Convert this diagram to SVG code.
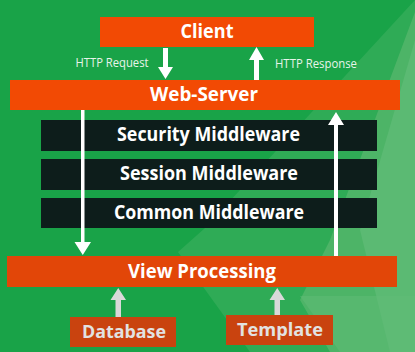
<svg xmlns="http://www.w3.org/2000/svg" width="415" height="352" viewBox="0 0 415 352">
  <style>
    .box-o { fill: #f24a04; }
    .box-v { fill: #e24608; }
    .box-s { fill: #c9430f; }
    .box-d { fill: #0d1d1b; }
    .t { font-family: "Open Sans", "Liberation Sans", sans-serif; font-weight: 700; fill: #ffffff; text-anchor: middle; }
    .ts { font-family: "Open Sans", "Liberation Sans", sans-serif; font-weight: 700; fill: #e2e2e2; text-anchor: middle; }
    .lbl { font-family: "Open Sans", "Liberation Sans", sans-serif; font-size: 12px; fill: #e8f4ea; text-anchor: middle; }
    .wline { fill: #ffffff; }
    .gline { fill: #d9d9d9; }
  </style>

  <!-- background with lighter diagonal facets -->
  <rect x="0" y="0" width="415" height="352" fill="#19a348"/>
  <polygon points="415,0 205,228 178,252 250,352 415,352" fill="#2fab56"/>
  <polygon points="415,12 330,240 300,300 330,352 415,352" fill="#4db467"/>
  <polygon points="415,40 360,230 390,352 415,352" fill="#5bba73"/>
  <polygon points="300,296 415,296 415,352 340,352" fill="#62bc78" opacity="0.5"/>

  <g id="connectors">
    <!-- HTTP request: client -> web server -->
    <polygon class="wline" points="163,48 168,48 168,67 173,67 165.5,79 158,67 163,67"/>
    <!-- HTTP response: web server -> client -->
    <polygon class="wline" points="254,80 259,80 259,60 264,60 256.5,47 249,60 254,60"/>
    <!-- database -> view processing -->
    <polygon class="gline" points="115.5,317 121,317 121,300 126,300 118.25,288 110.5,300 115.5,300"/>
    <!-- template -> view processing -->
    <polygon class="gline" points="274.5,315 280,315 280,300 285,300 277.25,288 269.5,300 274.5,300"/>
    <text class="lbl" x="112" y="67" textLength="73" lengthAdjust="spacingAndGlyphs">HTTP Request</text>
    <text class="lbl" x="316" y="68" textLength="82" lengthAdjust="spacingAndGlyphs">HTTP Response</text>
  </g>

  <g id="client">
    <rect class="box-o" x="100" y="17" width="214" height="30"/>
    <text class="t" x="207" y="38" font-size="19" textLength="53" lengthAdjust="spacingAndGlyphs">Client</text>
  </g>

  <g id="web-server">
    <rect class="box-o" x="10" y="80" width="390" height="30"/>
    <text class="t" x="204" y="101" font-size="20" textLength="108" lengthAdjust="spacingAndGlyphs">Web-Server</text>
  </g>

  <g id="security-middleware">
    <rect class="box-d" x="41" y="120" width="336" height="31"/>
    <text class="t" x="208.5" y="141" font-size="19" textLength="183" lengthAdjust="spacingAndGlyphs">Security Middleware</text>
  </g>

  <g id="session-middleware">
    <rect class="box-d" x="41" y="159" width="336" height="31"/>
    <text class="t" x="209" y="180" font-size="19" textLength="178" lengthAdjust="spacingAndGlyphs">Session Middleware</text>
  </g>

  <g id="common-middleware">
    <rect class="box-d" x="41" y="198" width="336" height="30"/>
    <text class="t" x="209" y="218.5" font-size="19" textLength="190" lengthAdjust="spacingAndGlyphs">Common Middleware</text>
  </g>

  <!-- pass-through lines run over the middleware layers -->
  <g id="pass-lines">
    <!-- web server down to view processing -->
    <polygon class="wline" points="81,110 84.5,110 84.5,242 91,242 82.75,255 74.5,242 81,242"/>
    <!-- view processing up to web server -->
    <polygon class="wline" points="334,256 338,256 338,125 344,125 336,112 328,125 334,125"/>
  </g>

  <g id="view-processing">
    <rect class="box-v" x="7" y="256" width="390" height="31"/>
    <text class="t" x="202" y="277.5" font-size="19" textLength="148" lengthAdjust="spacingAndGlyphs">View Processing</text>
  </g>

  <g id="database">
    <rect class="box-s" x="70" y="317" width="106" height="30"/>
    <text class="ts" x="124" y="337.5" font-size="18" textLength="84" lengthAdjust="spacingAndGlyphs">Database</text>
  </g>

  <g id="template">
    <rect class="box-s" x="226" y="315" width="107" height="30"/>
    <text class="ts" x="280" y="335.5" font-size="18" textLength="86" lengthAdjust="spacingAndGlyphs">Template</text>
  </g>
</svg>
